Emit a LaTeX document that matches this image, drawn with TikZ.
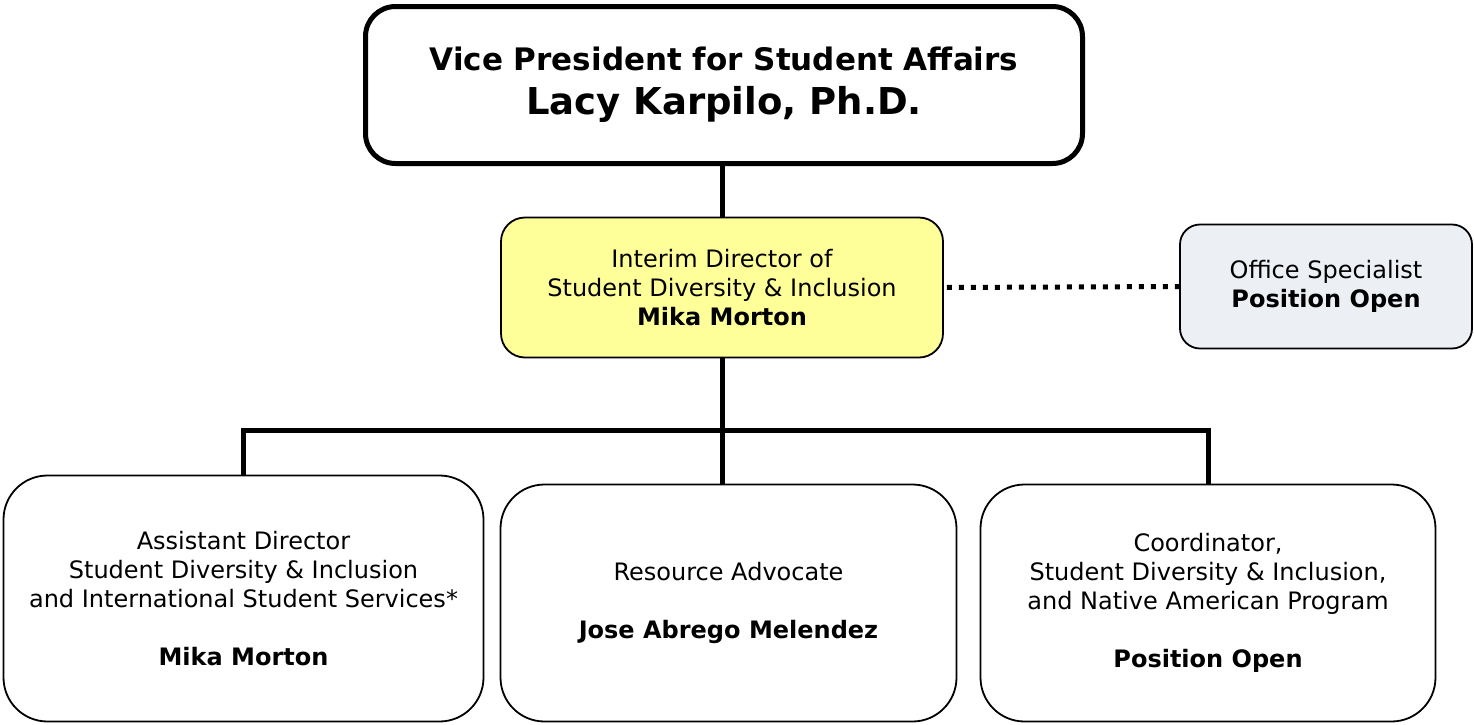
\documentclass[tikz,border=0pt]{standalone}
\usepackage{fontspec}
\setmainfont{DejaVu Sans}
\usetikzlibrary{positioning}
\definecolor{dirfill}{HTML}{FFFF99}
\definecolor{officefill}{HTML}{ECEFF3}
\tikzstyle{box} = [rectangle, draw=black, line width=0.9pt, align=center, text centered, font=\fontsize{12}{14.5}\selectfont]
\tikzstyle{topbox} = [box, rounded corners=15pt, line width=2.5pt, minimum width=358.5pt, minimum height=78.5pt, font=\bfseries\fontsize{15.5}{22}\selectfont]
\tikzstyle{dirbox} = [box, rounded corners=12pt, fill=dirfill, minimum width=221pt, minimum height=70pt]
\tikzstyle{officebox} = [box, rounded corners=10pt, fill=officefill, minimum width=146pt, minimum height=62pt]
\tikzstyle{staffbox} = [box, rounded corners=22pt, minimum height=118.5pt]
\tikzstyle{link} = [line width=2.5pt]
\tikzstyle{dotlink} = [line width=2.5pt, dash pattern=on 2.5pt off 3.5pt, dash phase=-1.5pt]

\begin{document}
\begin{tikzpicture}[x=0.5pt, y=-0.5pt]
  \useasboundingbox (0,0) rectangle (1474,724);

  \node (vp) [topbox] at (724,85) {%
    Vice President for Student Affairs\\
    {\fontsize{18.5}{22}\selectfont Lacy Karpilo, Ph.D.}};

  \node (dir) [dirbox] at (722,287.5) {
    Interim Director of\\
    Student Diversity \& Inclusion\\
    \textbf{Mika Morton}};

  \node (office) [officebox] at (1326,286.5) {
    Office Specialist\\
    \textbf{Position Open}};

  \node (asst) [staffbox, minimum width=240pt, minimum height=123pt] at (243.5,598.5) {
    Assistant Director\\
    Student Diversity \& Inclusion\\
    and International Student Services*\\[14.5pt]
    \textbf{Mika Morton}};

  \node (res) [staffbox, minimum width=228pt] at (728.5,603) {
    Resource Advocate\\[14.5pt]
    \textbf{Jose Abrego Melendez}};

  \node (coord) [staffbox, minimum width=227.5pt] at (1208,603) {
    Coordinator,\\
    Student Diversity \& Inclusion,\\
    and Native American Program\\[14.5pt]
    \textbf{Position Open}};

  % reporting lines
  \coordinate (bar) at (722,430);
  \draw[link] (dir.north) -- (dir.north |- vp.south);
  \draw[link] (dir.south) -- (dir.south |- res.north);
  \draw[link] (asst.north) -- (asst.north |- bar) -- (coord.north |- bar) -- (coord.north);
  \draw[dotlink] (dir.east) -- (office.west);
\end{tikzpicture}
\end{document}
